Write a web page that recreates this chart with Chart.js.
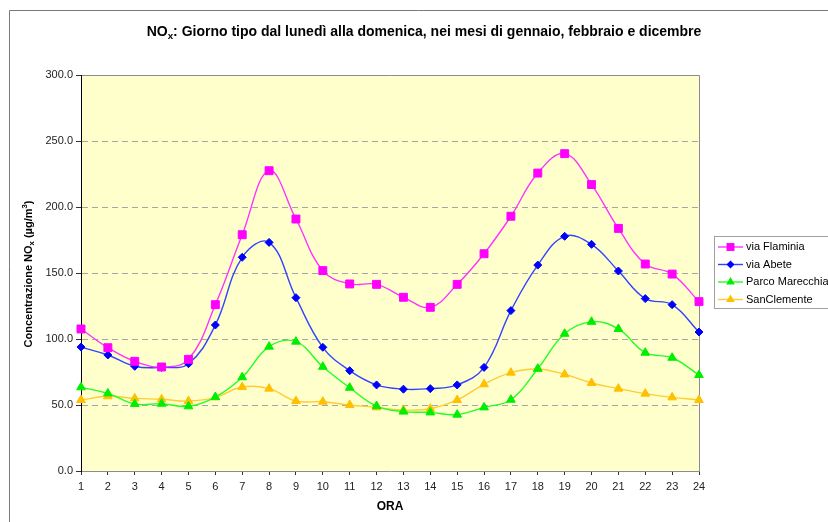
<!DOCTYPE html>
<html>
<head>
<meta charset="utf-8">
<script src="https://cdn.jsdelivr.net/npm/chart.js@4/dist/chart.umd.min.js"></script>
<style>
  html, body { margin: 0; padding: 0; background: #fff; }
  #wrap { width: 828px; height: 522px; position: relative; }
</style>
</head>
<body>
<div id="wrap"><canvas id="chart" width="828" height="522"></canvas></div>
<script>
const hours = ["1","2","3","4","5","6","7","8","9","10","11","12","13","14","15","16","17","18","19","20","21","22","23","24"];

const flaminia = [107.6, 93.4, 83.1, 78.8, 84.6, 126.0, 179.0, 227.5, 190.9, 151.8, 141.7, 141.4,
                  131.6, 124.0, 141.4, 164.6, 193.0, 225.7, 240.4, 217.0, 183.8, 156.8, 149.2, 128.3];
const abete = [93.9, 87.9, 79.3, 78.5, 81.3, 110.6, 161.9, 173.2, 131.3, 93.7, 76.0, 65.2,
               62.0, 62.4, 65.2, 78.5, 121.5, 156.0, 177.8, 171.7, 151.5, 130.6, 126.0, 105.3];
const marecchia = [63.4, 58.8, 50.8, 51.0, 49.0, 56.0, 71.0, 94.2, 98.0, 79.0, 63.1, 49.2,
                   45.0, 44.4, 42.7, 48.2, 54.0, 77.5, 104.0, 113.0, 107.6, 89.6, 85.8, 72.7];
const sanClemente = [53.8, 56.6, 55.0, 54.3, 53.0, 55.8, 63.6, 62.4, 53.0, 52.5, 50.0, 48.2,
                     46.2, 47.2, 53.8, 65.7, 74.5, 77.3, 73.2, 66.7, 62.4, 58.6, 55.8, 53.8];

const seriesNames = ["via Flaminia", "via Abete", "Parco Marecchia", "SanClemente"];

const FONT = "Arial, 'Liberation Sans', sans-serif";

const styles = [
  { line: "#ff33ff", fill: "#ff00ff", shape: "rect", r: 5.6 },
  { line: "#3344ff", fill: "#0000ff", shape: "rectRot", r: 4 },
  { line: "#22ff22", fill: "#00ee00", shape: "triangle", r: 5 },
  { line: "#ffcc33", fill: "#ffc000", shape: "triangle", r: 5 }
];

function mkSet(i, data) {
  const s = styles[i];
  return {
    label: seriesNames[i],
    data: data,
    borderColor: s.line,
    borderWidth: 1.4,
    backgroundColor: s.fill,
    pointStyle: s.shape,
    pointRadius: s.r,
    pointBorderColor: s.fill,
    pointBackgroundColor: s.fill,
    pointBorderWidth: 1,
    tension: 0.4,
    fill: false
  };
}

// draw text pieces with sub/superscripts, centred on cx
function drawRich(ctx, parts, cx, cy, size) {
  let total = 0;
  parts.forEach(p => {
    ctx.font = "bold " + (p.t ? size * 0.7 : size) + "px " + FONT;
    p.w = ctx.measureText(p.s).width;
    total += p.w;
  });
  let x = cx - total / 2;
  ctx.textAlign = "left";
  ctx.textBaseline = "middle";
  parts.forEach(p => {
    ctx.font = "bold " + (p.t ? size * 0.7 : size) + "px " + FONT;
    let dy = 0;
    if (p.t === "sub") dy = size * 0.3;
    if (p.t === "sup") dy = -size * 0.35;
    ctx.fillText(p.s, x, cy + dy);
    x += p.w;
  });
}

function marker(ctx, shape, x, y, r, color) {
  ctx.fillStyle = color;
  ctx.beginPath();
  if (shape === "rect") {
    const s = r * Math.SQRT1_2;
    ctx.rect(x - s, y - s, 2 * s, 2 * s);
  } else if (shape === "rectRot") {
    ctx.moveTo(x, y - r); ctx.lineTo(x + r, y); ctx.lineTo(x, y + r); ctx.lineTo(x - r, y);
    ctx.closePath();
  } else {
    const h = r * 0.87;
    ctx.moveTo(x, y - r); ctx.lineTo(x + h, y + r / 2); ctx.lineTo(x - h, y + r / 2);
    ctx.closePath();
  }
  ctx.fill();
}

const decor = {
  id: "decor",
  beforeDraw(chart) {
    const ctx = chart.ctx;
    const a = chart.chartArea;
    ctx.save();
    ctx.fillStyle = "#ffffcc";
    ctx.fillRect(a.left, a.top, a.right - a.left, a.bottom - a.top);
    ctx.strokeStyle = "#8c8c8c";
    ctx.lineWidth = 1;
    ctx.beginPath();
    ctx.moveTo(a.left, a.top + 0.5); ctx.lineTo(a.right + 0.5, a.top + 0.5); ctx.lineTo(a.right + 0.5, a.bottom);
    ctx.stroke();
    // outer chart frame
    ctx.strokeStyle = "#7a7a7a";
    ctx.beginPath();
    ctx.moveTo(9.5, 522); ctx.lineTo(9.5, 10.5); ctx.lineTo(828, 10.5);
    ctx.stroke();
    ctx.restore();
  },
  afterDraw(chart) {
    const ctx = chart.ctx;
    ctx.save();
    ctx.fillStyle = "#000";
    drawRich(ctx, [
      { s: "NO" }, { s: "x", t: "sub" },
      { s: ": Giorno tipo dal lunedì alla domenica, nei mesi di gennaio, febbraio e dicembre" }
    ], 424, 32, 14);

    ctx.save();
    ctx.translate(29, 274);
    ctx.rotate(-Math.PI / 2);
    drawRich(ctx, [
      { s: "Concentrazione NO" }, { s: "x", t: "sub" },
      { s: " (µg/m" }, { s: "3", t: "sup" }, { s: ")" }
    ], 0, 0, 11);
    ctx.restore();

    drawRich(ctx, [{ s: "ORA" }], 390, 507, 12);

    // legend
    ctx.strokeStyle = "#a0a0a0";
    ctx.lineWidth = 1;
    ctx.strokeRect(714.5, 236.5, 130, 72);
    ctx.font = "11px " + FONT;
    ctx.textBaseline = "middle";
    ctx.textAlign = "left";
    seriesNames.forEach((name, i) => {
      const y = 247 + i * 17.5;
      const s = styles[i];
      ctx.strokeStyle = s.line;
      ctx.lineWidth = 1.4;
      ctx.beginPath();
      ctx.moveTo(718, y); ctx.lineTo(743, y);
      ctx.stroke();
      marker(ctx, s.shape, 730.5, y, s.r, s.fill);
      ctx.fillStyle = "#000";
      ctx.fillText(name, 746, y);
    });
    ctx.restore();
  }
};

new Chart(document.getElementById("chart"), {
  type: "line",
  data: {
    labels: hours,
    datasets: [mkSet(0, flaminia), mkSet(1, abete), mkSet(2, marecchia), mkSet(3, sanClemente)]
  },
  options: {
    responsive: false,
    animation: false,
    clip: false,
    layout: { padding: { left: 0, top: 75, right: 129, bottom: 0 } },
    plugins: {
      legend: { display: false },
      title: { display: false },
      tooltip: { enabled: false }
    },
    scales: {
      x: {
        offset: false,
        afterFit: s => { s.height = 51; },
        border: { color: "#8c8c8c", width: 1 },
        grid: { drawOnChartArea: false, drawTicks: true, tickLength: 4, tickColor: "#333", tickBorderDash: [] },
        ticks: { color: "#222", font: { family: FONT, size: 11 }, padding: 5, maxRotation: 0, autoSkip: false }
      },
      y: {
        min: 0,
        max: 300,
        afterFit: s => { s.width = 81; },
        border: { color: "#000", width: 1, dash: [6, 4] },
        grid: {
          color: c => (c.tick && (c.tick.value === 0 || c.tick.value === 300)) ? "rgba(0,0,0,0)" : "#a6a6a6",
          tickLength: 5,
          tickColor: "#333",
          tickBorderDash: [],
          lineWidth: 1
        },
        ticks: {
          stepSize: 50,
          color: "#222",
          font: { family: FONT, size: 11 },
          padding: 3,
          callback: v => v.toFixed(1)
        }
      }
    }
  },
  plugins: [decor]
});
</script>
</body>
</html>
